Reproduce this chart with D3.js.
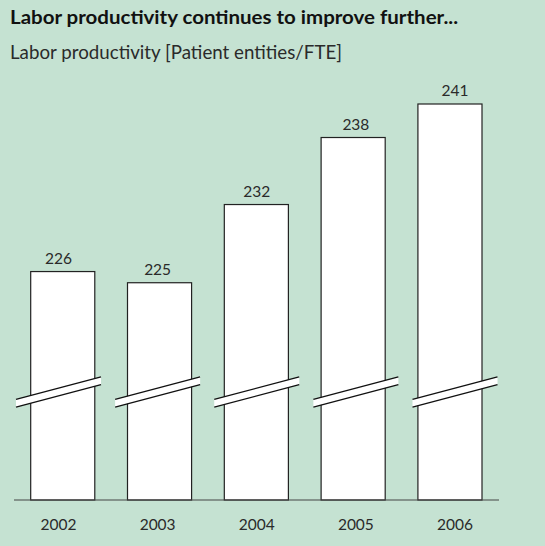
<!DOCTYPE html>
<html>
<head>
<meta charset="utf-8">
<script src="https://cdn.jsdelivr.net/npm/d3@7"></script>
<style>
  html, body { margin: 0; padding: 0; background: #c5e2d2; }
  svg { display: block; }
</style>
</head>
<body>
<div id="wrapper"></div>
<script>
// data
const years = ["2002", "2003", "2004", "2005", "2006"]
const productivity = [226, 225, 232, 238, 241]
const title = "Labor productivity continues to improve further..."
const subtitle = "Labor productivity [Patient entities/FTE]"

function drawBars(){
    const dimensions = {
        width: 545,
        height: 546,
        baseline: 500,
        barTop: 104
    }

    const wrapper = d3.select('#wrapper')
        .append('svg')
        .attr('width', dimensions.width)
        .attr('height', dimensions.height)

    wrapper.append('rect')
        .attr('width', dimensions.width)
        .attr('height', dimensions.height)
        .attr('fill', '#c5e2d2')

    // titles
    wrapper.append('text')
        .attr('x', 10)
        .attr('y', 24)
        .attr('font-family', 'Lato, sans-serif')
        .attr('font-weight', 'bold')
        .attr('font-size', 19)
        .attr('fill', '#111')
        .attr('textLength', 448)
        .attr('lengthAdjust', 'spacingAndGlyphs')
        .text(title)

    wrapper.append('text')
        .attr('x', 10)
        .attr('y', 59)
        .attr('font-family', 'Lato, sans-serif')
        .attr('font-size', 19)
        .attr('fill', '#2a2a2a')
        .attr('textLength', 332)
        .attr('lengthAdjust', 'spacingAndGlyphs')
        .text(subtitle)

    // scales
    const xScale = d3.scaleBand()
        .domain(years)
        .range([30.7, 482])
        .paddingInner(0.338)
        .paddingOuter(0)

    // labels sit on a slightly wider spacing than the bars
    const labelScale = d3.scalePoint()
        .domain(years)
        .range([58.5, 455])

    const yScale = d3.scaleLinear()
        .domain([205.55, 241])
        .range([dimensions.baseline, dimensions.barTop])

    const data = years.map((y, i) => ({year: y, value: productivity[i]}))

    // bars
    wrapper.append('g')
        .selectAll('rect')
        .data(data)
        .join('rect')
        .attr('x', d => xScale(d.year))
        .attr('y', d => yScale(d.value))
        .attr('width', xScale.bandwidth())
        .attr('height', d => dimensions.baseline - yScale(d.value))
        .attr('fill', '#fff')
        .attr('stroke', '#222')
        .attr('stroke-width', 1.2)

    // axis break marks
    const breakY = 392
    const halfW = 42.5
    const slope = -0.265
    const gap = 7.7
    const lineY = (cx, x, off) => breakY + off + slope * (x - cx)

    const breaks = wrapper.append('g')
        .selectAll('g')
        .data(data)
        .join('g')

    breaks.append('polygon')
        .attr('points', d => {
            const cx = labelScale(d.year)
            const l = cx - halfW, r = cx + halfW
            return [
                [l, lineY(cx, l, -gap / 2)],
                [r, lineY(cx, r, -gap / 2)],
                [r, lineY(cx, r, gap / 2)],
                [l, lineY(cx, l, gap / 2)]
            ].join(' ')
        })
        .attr('fill', '#fff')

    ;[-gap / 2, gap / 2].forEach(off => {
        breaks.append('line')
            .attr('x1', d => labelScale(d.year) - halfW)
            .attr('x2', d => labelScale(d.year) + halfW)
            .attr('y1', d => lineY(labelScale(d.year), labelScale(d.year) - halfW, off))
            .attr('y2', d => lineY(labelScale(d.year), labelScale(d.year) + halfW, off))
            .attr('stroke', '#111')
            .attr('stroke-width', 1.3)
    })

    // baseline
    wrapper.append('line')
        .attr('x1', 14)
        .attr('x2', 499)
        .attr('y1', dimensions.baseline)
        .attr('y2', dimensions.baseline)
        .attr('stroke', '#444')
        .attr('stroke-width', 1.2)

    // value labels
    wrapper.append('g')
        .selectAll('text')
        .data(data)
        .join('text')
        .attr('x', d => labelScale(d.year))
        .attr('y', d => yScale(d.value) - 8)
        .attr('text-anchor', 'middle')
        .attr('font-family', 'Lato, sans-serif')
        .attr('font-size', 15.5)
        .attr('fill', '#2a2a2a')
        .text(d => d.value)

    // year labels
    wrapper.append('g')
        .selectAll('text')
        .data(data)
        .join('text')
        .attr('x', d => labelScale(d.year))
        .attr('y', 530)
        .attr('text-anchor', 'middle')
        .attr('font-family', 'Lato, sans-serif')
        .attr('font-size', 15.5)
        .attr('fill', '#2a2a2a')
        .text(d => d.year)
}

drawBars()
</script>
</body>
</html>
